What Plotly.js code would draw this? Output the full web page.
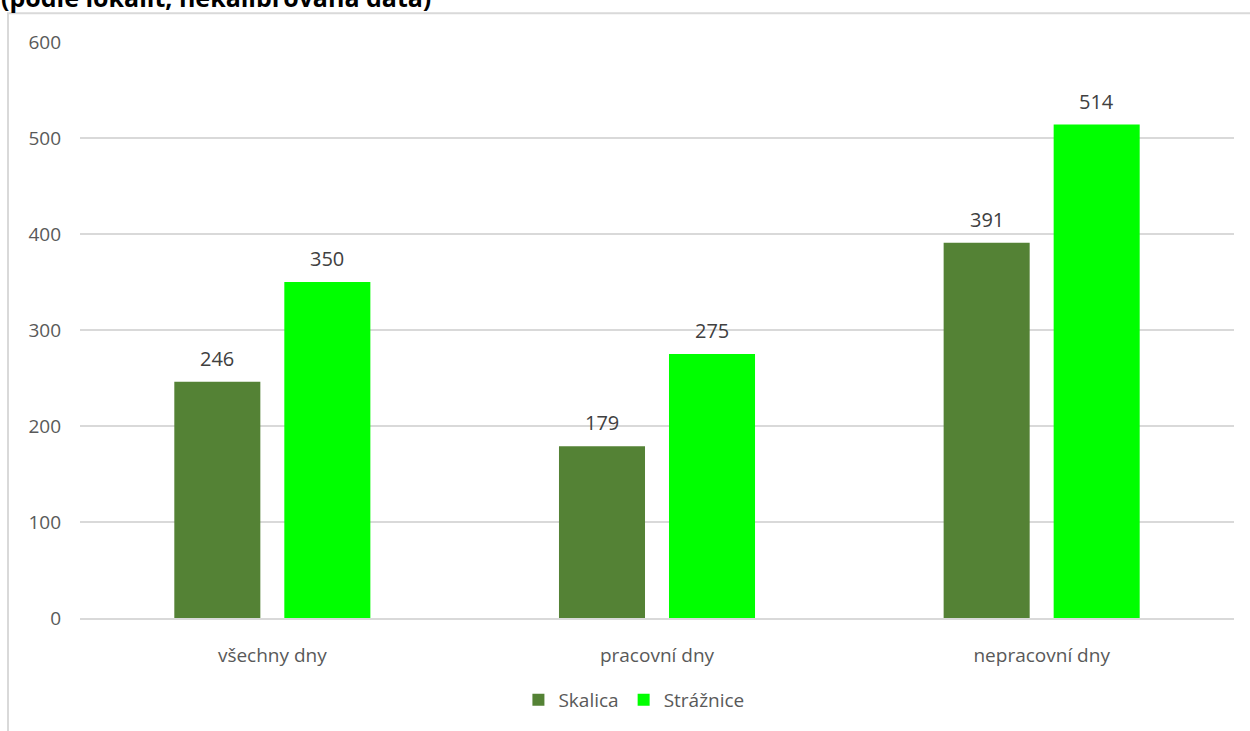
<!DOCTYPE html>
<html>
<head>
<meta charset="utf-8">
<script src="https://cdn.plot.ly/plotly-3.0.1.min.js"></script>
<style>
  html, body { margin: 0; padding: 0; background: #ffffff; }
  #chart { width: 1250px; height: 731px; }
</style>
</head>
<body>
<div id="chart"></div>
<script>
// Day-type categories along the x axis
const categories = ['všechny dny', 'pracovní dny', 'nepracovní dny'];

// Values per locality
const skalica = [246, 179, 391];
const straznice = [350, 275, 514];

// Series names
const seriesNames = ['Skalica', 'Strážnice'];

// Y axis ticks
const yTicks = [0, 100, 200, 300, 400, 500, 600];

const chartTitle = '(podle lokalit, nekalibrovaná data)';

const FONT = 'Open Sans, DejaVu Sans, sans-serif';
const TEXT_GREY = '#595959';
const LABEL_GREY = '#404040';
const COLORS = ['#548235', '#00FF00'];

// Horizontal offset (px) of each bar in a group from the category centre
const GROUP_SHIFT = [-55, 55];

function barTrace(name, values, color) {
  return {
    type: 'bar',
    name: name,
    x: categories,
    y: values,
    marker: { color: color, line: { width: 0 } },
    hoverinfo: 'x+y+name'
  };
}

const data = [
  barTrace(seriesNames[0], skalica, COLORS[0]),
  barTrace(seriesNames[1], straznice, COLORS[1])
];

// Value labels sitting above each bar
const valueLabels = [];
[skalica, straznice].forEach(function (values, s) {
  values.forEach(function (v, i) {
    valueLabels.push({
      text: String(v),
      xref: 'x', yref: 'y',
      x: categories[i], y: v,
      xanchor: 'center', yanchor: 'bottom',
      xshift: GROUP_SHIFT[s], yshift: 8,
      showarrow: false,
      font: { family: FONT, size: 20, color: LABEL_GREY }
    });
  });
});

const layout = {
  width: 1250,
  height: 731,
  margin: { l: 80, r: 16, t: 42, b: 110, pad: 0 },
  paper_bgcolor: '#ffffff',
  plot_bgcolor: '#ffffff',
  font: { family: FONT, color: TEXT_GREY, size: 19 },
  barmode: 'group',
  bargap: 0.428,
  bargroupgap: 0.218,
  showlegend: true,
  legend: {
    orientation: 'h',
    x: 0.48,
    xanchor: 'center',
    y: -0.142,
    yanchor: 'middle',
    font: { family: FONT, size: 19, color: TEXT_GREY },
    itemwidth: 30,
    traceorder: 'normal'
  },
  xaxis: {
    type: 'category',
    showgrid: false,
    showline: true,
    linecolor: '#D9D9D9',
    linewidth: 1.5,
    ticks: '',
    ticklabelstandoff: 20,
    tickfont: { family: FONT, size: 19, color: TEXT_GREY },
    zeroline: false
  },
  yaxis: {
    range: [0, 600],
    tickvals: yTicks,
    showgrid: true,
    gridcolor: '#D9D9D9',
    gridwidth: 1.5,
    zeroline: false,
    showline: false,
    ticks: '',
    ticklabelstandoff: 18,
    tickfont: { family: FONT, size: 19, color: TEXT_GREY }
  },
  shapes: [
    {
      type: 'rect',
      xref: 'paper', yref: 'paper',
      x0: (8 - 80) / 1154, x1: (1262 - 80) / 1154,
      y0: (621 - 745) / 579, y1: (621 - 13) / 579,
      line: { color: '#D9D9D9', width: 2 },
      fillcolor: 'rgba(0,0,0,0)',
      layer: 'below'
    }
  ],
  annotations: [
    {
      text: '<b>' + chartTitle + '</b>',
      xref: 'paper', yref: 'paper',
      x: -80 / 1154, xanchor: 'left',
      y: (621 - 15) / 579, yanchor: 'bottom',
      showarrow: false,
      font: { family: FONT, size: 25, color: '#000000' },
      borderpad: 0
    }
  ].concat(valueLabels)
};

Plotly.newPlot('chart', data, layout, { displayModeBar: false, staticPlot: true });
</script>
</body>
</html>
